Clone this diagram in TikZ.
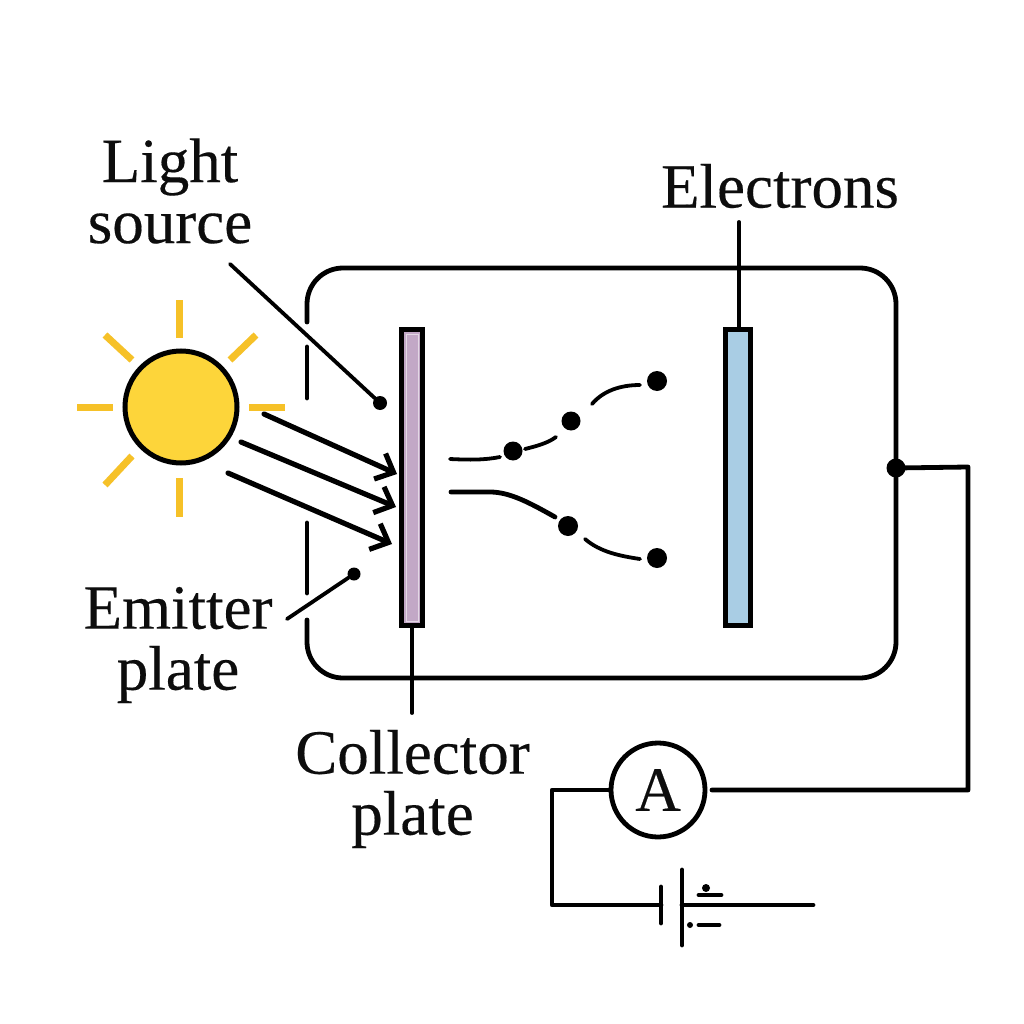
\documentclass[tikz,border=0pt]{standalone}
\usepackage{fontspec}
\setmainfont[FakeBold=0.25]{Liberation Serif}
\usetikzlibrary{arrows.meta}
\definecolor{sunfill}{HTML}{FDD53A}
\definecolor{rayc}{HTML}{F6C128}
\definecolor{plateA}{HTML}{C2A8C6}
\definecolor{plateB}{HTML}{A9CDE4}
\tikzset{
  x=1pt,y=-1pt,
  wire/.style={line width=4.8pt,line cap=round,line join=round},
  thin wire/.style={line width=3.8pt,line cap=round},
  ray/.style={line width=7pt,rayc},
  lbl/.style={font=\fontsize{63}{61}\selectfont,inner sep=0pt,text=black!95,align=center},
  dot/.style={circle,fill=black,inner sep=0pt,minimum size=#1},
  plate/.style={draw=black,line width=5.5pt,minimum width=19pt,minimum height=296pt,inner sep=0pt},
  beam/.style={line width=5.2pt,line cap=round,-{Straight Barb[length=15pt,width=28pt,line width=5.2pt]}},
}
\begin{document}
\begin{tikzpicture}
\useasboundingbox[fill=white] (0,0) rectangle (1024,1024);

% vacuum tube wall, open on the side facing the lamp
\draw[wire,rounded corners=36pt] (307,322) -- (307,268) -- (896,268) -- (896,678) -- (307,678) -- (307,620);
\draw[wire] (307,347) -- (307,398);
\draw[wire] (307,523) -- (307,593);

% lamp and its rays
\node[circle,draw=black,line width=5pt,fill=sunfill,minimum size=112pt,inner sep=0pt] (sun) at (181,407) {};
\foreach \a/\b/\c/\d in {249/407/285/407, 77/407/113/407, 179/300/179/338, 179/478/179/517,
                         230/360/256/335, 105/335/132/360, 132/456/105/485}
  \draw[ray] (\a,\b) -- (\c,\d);

% plates
\node[plate,fill=plateA,minimum width=21pt] (collector) at (412,477.5) {};
\draw[white!55!plateA,line width=1pt] (406,334) rectangle (418,621);
\node[plate,fill=plateB,minimum width=25pt,line width=4.5pt] (anode) at (738,477.5) {};

% incoming light
\coordinate (b1s) at (264,414); \coordinate (b1e) at (397,474);
\coordinate (b2s) at (241,442); \coordinate (b2e) at (396,507);
\coordinate (b3s) at (228,473); \coordinate (b3e) at (392,544);
\draw[beam] (b1s) -- (b1e);
\draw[beam] (b2s) -- (b2e);
\draw[beam] (b3s) -- (b3e);

% labels and leader lines
\node[lbl] (lightsource) at (170,191) {Light\\source};
\node[lbl] (electrons) at (780,186) {Electrons};
\node[lbl] (emitter) at (178,645) {Emitter\\plate};
\node[lbl] (coll) at (412.5,789) {Collector\\plate};

\node[dot=14pt] (lsdot) at (380,403) {};
\node[dot=13pt] (emdot) at (354,574) {};
\coordinate (lsfree) at (230,264);
\coordinate (emfree) at (287,619);
\coordinate (elfree) at (739,222);
\coordinate (cofree) at (412,713);
\draw[thin wire] (lsfree) -- (lsdot);
\draw[thin wire] (emfree) -- (emdot);
\draw[thin wire] (elfree) -- (739,327);
\draw[thin wire] (412,628) -- (cofree);

% electrons and their broken paths
\node[dot=19pt] (e1) at (513,451) {};
\node[dot=19pt] (e2) at (571,421) {};
\node[dot=20pt] (e3) at (657,381) {};
\node[dot=20pt] (e4) at (568,526) {};
\node[dot=20pt] (e5) at (657,558) {};
\draw[thin wire] (450,459) .. controls (470,460) and (485,460) .. (500,457);
\draw[thin wire] (525,449) .. controls (537,446) and (548,443) .. (556,437);
\draw[thin wire] (592,404) .. controls (603,391) and (620,385) .. (640,385);
\draw[wire] (451,492) -- (490,492) .. controls (510,492) and (530,503) .. (555,517);
\draw[thin wire] (585,539) .. controls (600,552) and (620,556) .. (640,559);

% external circuit
\node[circle,draw=black,line width=4.8pt,fill=white,minimum size=94pt,inner sep=0pt,lbl] (amm) at (658,790) {A};
\node[circle,fill=black,inner sep=0pt,minimum width=19pt,minimum height=17pt] (junction) at (896,468) {};
\coordinate (ammGap) at (712,790);
\coordinate (plateShort) at (661,905);
\coordinate (plateLong) at (682,905);
\coordinate (batEnd) at (813,905);
\draw[wire] (junction.center) -- (968,467) |- (ammGap);
\draw[wire] (amm.west) -- (552,790) |- (plateShort);
\draw[wire] (661,887) -- (661,923);
\draw[wire] (682,870) -- (682,945);
\draw[wire] (plateLong) -- (batEnd);
\draw[wire] (699,895) -- (721,895);
\draw[wire] (699,925) -- (719,925);
\node[dot=8pt] (plus) at (706,888) {};
\node[dot=6pt] (minus) at (690,925) {};
\end{tikzpicture}
\end{document}
